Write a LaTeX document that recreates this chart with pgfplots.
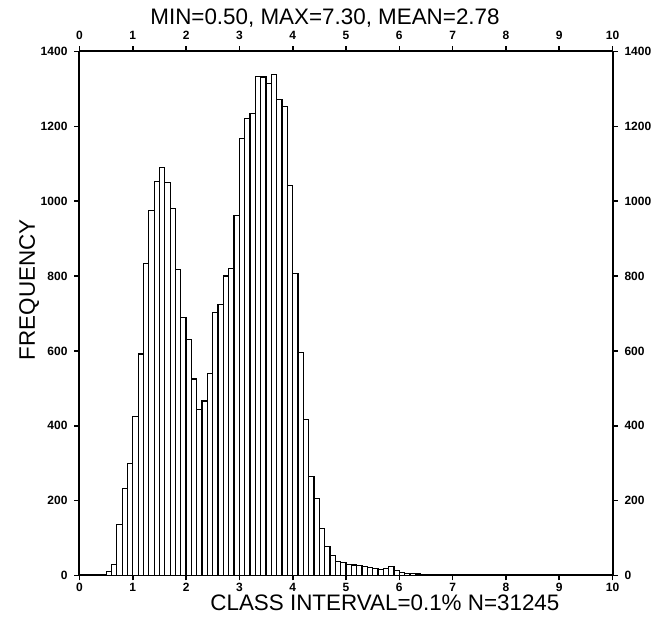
\documentclass[border=0pt]{standalone}
\usepackage{fontspec}
\setmainfont{Liberation Sans}
\usepackage{pgfplots}
\pgfplotsset{compat=1.18}
\begin{document}
\begin{tikzpicture}
\pgfplotsset{
  common/.style={
    scale only axis, width=266.5pt, height=262pt,
    xmin=0, xmax=10, ymin=0, ymax=1400,
    xtick={0,...,10}, ytick={0,200,...,1400},
    tick align=outside, major tick length=2.5pt,
    axis line style={line width=1pt, black},
    every tick/.style={black, line width=0.8pt},
    tick label style={font=\fontsize{6}{6}\selectfont\bfseries},
    /pgf/number format/assume math mode=true,
    /pgf/number format/1000 sep={},
    label style={font=\fontsize{11.2}{13}\selectfont},
    title style={font=\fontsize{11.2}{13}\selectfont},
  }
}
\begin{axis}[common, name=ax,
  axis x line*=bottom, axis y line*=left,
  xticklabel style={yshift=2pt},
  title={MIN=0.50, MAX=7.30, MEAN=2.78},
  title style={at={(0.4606,1)}, anchor=base, yshift=7.5pt},
  xlabel={CLASS INTERVAL=0.1\% N=31245},
  xlabel style={at={(0.573,0)}, anchor=base, yshift=-17.5pt},
  ylabel={FREQUENCY},
  ylabel style={at={([xshift=-22.25pt]axis description cs:0,0.545)}, anchor=base},
]
\addplot[ybar interval, fill=white, draw=black, line width=0.6pt] coordinates {
(0.5,10)(0.6,30)(0.7,136)(0.8,233)(0.9,299)(1.0,424)(1.1,592)(1.2,833)(1.3,975)(1.4,1053)
(1.5,1090)(1.6,1050)(1.7,981)(1.8,818)(1.9,690)(2.0,630)(2.1,525)(2.2,444)(2.3,466)(2.4,539)
(2.5,702)(2.6,723)(2.7,800)(2.8,821)(2.9,962)(3.0,1168)(3.1,1220)(3.2,1235)(3.3,1334)(3.4,1332)
(3.5,1314)(3.6,1338)(3.7,1272)(3.8,1253)(3.9,1043)(4.0,807)(4.1,596)(4.2,417)(4.3,265)(4.4,205)
(4.5,125)(4.6,77)(4.7,53)(4.8,38)(4.9,34)(5.0,29)(5.1,28)(5.2,27)(5.3,25)(5.4,22)
(5.5,19)(5.6,16)(5.7,19)(5.8,23)(5.9,14)(6.0,7)(6.1,6)(6.2,5)(6.3,4)(6.4,3)
(6.5,3)(6.6,2)(6.7,2)(6.8,1)(6.9,1)(7.0,1)(7.1,2)(7.2,3)(7.3,0)
};
\end{axis}
\begin{axis}[common,
  axis x line*=top, axis y line*=right,
  xticklabel pos=right, yticklabel pos=right,
]
\end{axis}
\pgfresetboundingbox
\path ([xshift=-39.75pt,yshift=-21.25pt]ax.south west) rectangle ([xshift=25.75pt,yshift=25.75pt]ax.north east);
\end{tikzpicture}
\end{document}
